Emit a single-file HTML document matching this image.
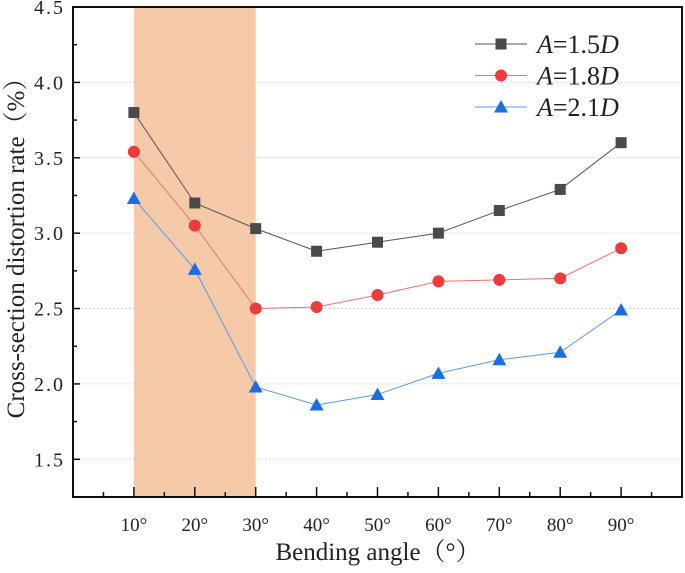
<!DOCTYPE html>
<html><head><meta charset="utf-8"><style>
body{margin:0;background:#fff}
text{font-family:"Liberation Serif","Noto Serif CJK SC",serif;fill:#222}
</style></head><body>
<svg id="c" width="685" height="568" xmlns="http://www.w3.org/2000/svg"></svg>
<script>
const categories=[10,20,30,40,50,60,70,80,90];
const s15=[3.80,3.20,3.03,2.88,2.94,3.00,3.15,3.29,3.60];
const s18=[3.54,3.05,2.50,2.51,2.59,2.68,2.69,2.70,2.90];
const s21=[3.23,2.76,1.98,1.86,1.93,2.07,2.16,2.21,2.49];
const yTicks=[1.5,2.0,2.5,3.0,3.5,4.0,4.5];
const xTickLabels=["10°","20°","30°","40°","50°","60°","70°","80°","90°"];
const shade=[10,30];
const L=73,R=682,T=7,B=497;
const X=v=>L+(v/100)*(R-L);
const Y=v=>T+(4.5-v)/(4.5-1.25)*(B-T);
const svg=document.getElementById('c');const NS='http://www.w3.org/2000/svg';
function el(t,a,p){const e=document.createElementNS(NS,t);for(const k in a)e.setAttribute(k,a[k]);(p||svg).appendChild(e);return e;}
let r=el('rect',{x:X(shade[0]),y:T,width:X(shade[1])-X(shade[0]),height:B-T,fill:'#f6caa9'});


yTicks.forEach(v=>{
 let g=el('line',{x1:L,x2:R,y1:Y(v),y2:Y(v),stroke:'#ccc','stroke-dasharray':'1.5,2.5','stroke-width':1});
 
 
 let t=el('text',{x:L-8,y:Y(v)+7,'text-anchor':'end','font-size':20,'letter-spacing':'2'});t.textContent=v.toFixed(1);
 
 
 el('line',{x1:L,x2:L+7,y1:Y(v),y2:Y(v),stroke:'#111','stroke-width':1.5});
 if(v<4.5) el('line',{x1:L,x2:L+4,y1:Y(v+0.25),y2:Y(v+0.25),stroke:'#111','stroke-width':1.5});
});
for(let v=5;v<100;v+=5){el('line',{x1:X(v),x2:X(v),y1:B,y2:B-(v%10?5:10),stroke:'#111','stroke-width':1.5});}
categories.forEach((c,i)=>{let t=el('text',{x:X(c),y:B+34,'text-anchor':'middle','font-size':19});t.textContent=xTickLabels[i];
 
 });
let f=el('rect',{x:L,y:T,width:R-L,height:B-T,fill:'none',stroke:'#111','stroke-width':2});


function marker(type,x,y,col,g){
 if(type==='sq')return el('rect',{x:x-5.5,y:y-5.5,width:11,height:11,fill:col},g);
 if(type==='ci')return el('circle',{cx:x,cy:y,r:6,fill:col},g);
 return el('polygon',{points:`${x},${y-7} ${x-7},${y+5.5} ${x+7},${y+5.5}`,fill:col},g);
}
const series=[[s15,'#4a4a4a','#555','sq','series-a-1-5d'],[s18,'#ef3b3b','#f07070','ci','series-a-1-8d'],[s21,'#1c6ee0','#5c9ae8','tr','series-a-2-1d']];
series.forEach(([d,mc,lc,m,n])=>{
 const g=el('g',{});
 
 
 el('polyline',{points:d.map((v,i)=>X(categories[i])+','+Y(v)).join(' '),fill:'none',stroke:lc,'stroke-width':1},g);
 d.forEach((v,i)=>{const mk=marker(m,X(categories[i]),Y(v),mc,g);
  
  });
});
const leg=[['1.5','#4a4a4a','#555','sq'],['1.8','#ef3b3b','#f07070','ci'],['2.1','#1c6ee0','#5c9ae8','tr']];
leg.forEach(([v,mc,lc,m],i)=>{
 const y=44+i*31.5;const g=el('g',{});
 
 
 el('line',{x1:475,x2:527,y1:y,y2:y,stroke:lc,'stroke-width':1},g);
 marker(m,501,y,mc,g);
 const t=el('text',{x:537,y:y+9,'font-size':26},g);
 t.innerHTML=`<tspan font-style="italic">A</tspan>=${v}<tspan font-style="italic">D</tspan>`;
});
let yl=el('text',{x:24,y:(T+B)/2-10,'text-anchor':'middle','font-size':25,transform:`rotate(-90 24 ${(T+B)/2-10})`});
yl.textContent='Cross-section distortion rate（%）';


let xl=el('text',{x:378,y:560,'text-anchor':'middle','font-size':25});
xl.textContent='Bending angle（°）';


</script>
</body></html>
